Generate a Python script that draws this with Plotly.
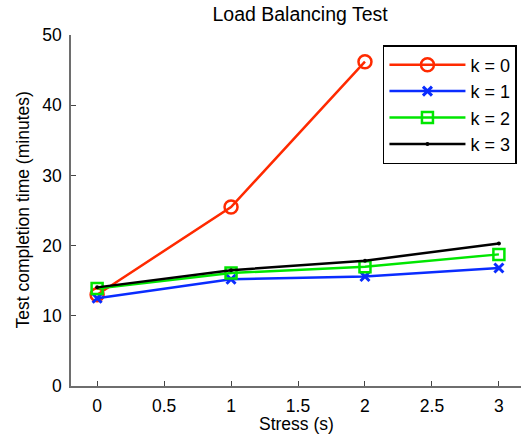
import plotly.graph_objects as go

stress = [0, 1, 2, 3]
k0 = [13.0, 25.5, 46.2]
k1 = [12.5, 15.2, 15.6, 16.8]
k2 = [13.9, 16.1, 17.0, 18.75]
k3 = [14.05, 16.5, 17.85, 20.3]
names = ["k = 0", "k = 1", "k = 2", "k = 3"]
colors = ["#ff2a00", "#0a2cff", "#00e600", "#000000"]
xticks = [0, 0.5, 1, 1.5, 2, 2.5, 3]
xticklabels = ["0", "0.5", "1", "1.5", "2", "2.5", "3"]
yticks = [0, 10, 20, 30, 40, 50]

FONT = "Liberation Sans, Arial, Helvetica, sans-serif"
LW = 2.5

fig = go.Figure()
fig.add_trace(go.Scatter(x=stress[:3], y=k0, name=names[0], mode="lines+markers",
                         line=dict(color=colors[0], width=LW),
                         marker=dict(symbol="circle-open", size=13, line=dict(width=2.5, color=colors[0]))))
fig.add_trace(go.Scatter(x=stress, y=k1, name=names[1], mode="lines+markers",
                         line=dict(color=colors[1], width=LW),
                         marker=dict(symbol="x-thin-open", size=9, line=dict(width=3, color=colors[1]))))
fig.add_trace(go.Scatter(x=stress, y=k2, name=names[2], mode="lines+markers",
                         line=dict(color=colors[2], width=LW),
                         marker=dict(symbol="square-open", size=11, line=dict(width=2.5, color=colors[2]))))
fig.add_trace(go.Scatter(x=stress, y=k3, name=names[3], mode="lines+markers",
                         line=dict(color=colors[3], width=LW),
                         marker=dict(symbol="circle", size=4, color=colors[3])))

fig.update_layout(
    width=521, height=443,
    margin=dict(l=71, r=0, t=35, b=57, autoexpand=False),
    paper_bgcolor="white", plot_bgcolor="white",
    font=dict(family=FONT, size=17.5, color="black"),
    title=dict(text="Load Balancing Test", x=0.576, xanchor="center", y=0.968, yanchor="middle",
               font=dict(size=19.5), automargin=False),
    legend=dict(x=0.991, xanchor="right", y=0.9715, yanchor="top",
                bgcolor="white", bordercolor="black", borderwidth=1.5,
                font=dict(size=18), tracegroupgap=0, itemwidth=76),
    showlegend=True,
    annotations=[
        dict(text="Stress (s)", xref="paper", yref="paper", x=0.5, y=0,
             xanchor="center", yanchor="middle", yshift=-38, showarrow=False,
             font=dict(size=17.5)),
        dict(text="Test completion time (minutes)", xref="paper", yref="paper", x=0, y=0.5,
             xanchor="center", yanchor="middle", xshift=-49, textangle=-90, showarrow=False,
             font=dict(size=17.5)),
    ],
)
fig.update_xaxes(range=[-0.195, 3.165], tickvals=xticks, ticktext=xticklabels,
                 showline=True, linecolor="#6e6e6e", linewidth=1.5, automargin=False,
                 ticks="inside", ticklen=5, tickcolor="#444", showgrid=False, zeroline=False,
                 ticklabelstandoff=3)
fig.update_yaxes(range=[0, 50], tickvals=yticks,
                 showline=True, linecolor="#6e6e6e", linewidth=1.5, automargin=False,
                 ticks="inside", ticklen=5, tickcolor="#444", showgrid=False, zeroline=False,
                 ticklabelstandoff=4)

# remove the default 8px page margin so the figure fills the window exactly
fig.write_html("out.html", config={"displayModeBar": False},
               post_script="document.body.style.margin='0';")
